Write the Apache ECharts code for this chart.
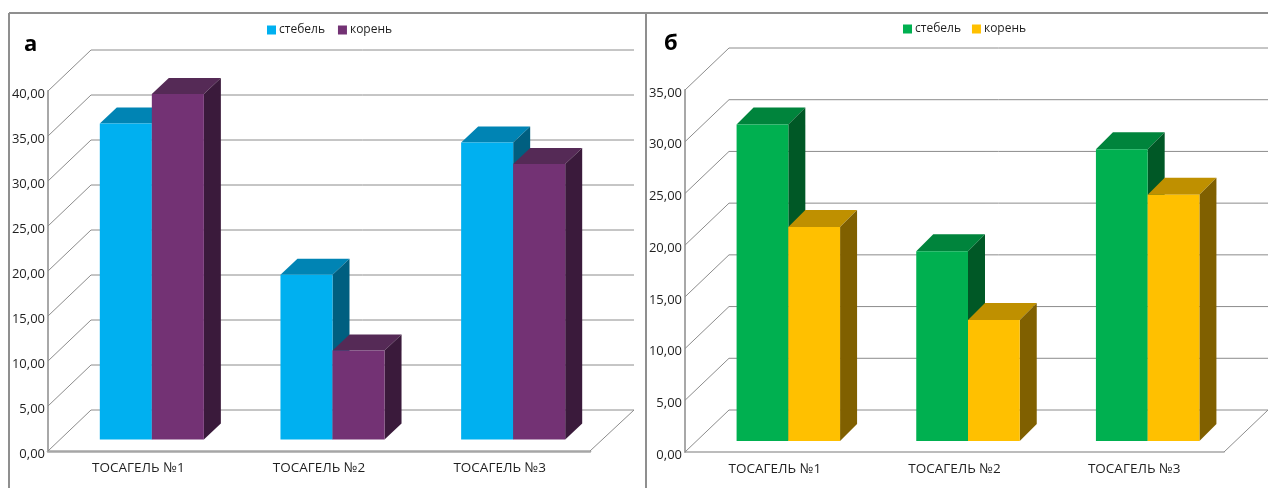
<!DOCTYPE html>
<html>
<head>
<meta charset="utf-8">
<style>
html,body{margin:0;padding:0;background:#fff}
#chart{width:1268px;height:488px}
</style>
<script src="https://cdn.jsdelivr.net/npm/echarts@6/dist/echarts.min.js"></script>
</head>
<body>
<div id="chart"></div>
<script>
// Stem and root measurements for the three preparations, panels "а" and "б"
const categories = ['ТОСАГЕЛЬ №1', 'ТОСАГЕЛЬ №2', 'ТОСАГЕЛЬ №3'];
const stemA = [35.1, 18.3, 33.0];
const rootA = [38.4, 9.9, 30.6];
const stemB = [30.6, 18.35, 28.2];
const rootB = [20.7, 11.7, 23.8];
const ticksA = [0, 5, 10, 15, 20, 25, 30, 35, 40];
const ticksB = [0, 5, 10, 15, 20, 25, 30, 35];
const seriesNames = ['стебель', 'корень'];

const FONT = '"Open Sans", sans-serif';
const TEXT = '#1f1f1f';

// Front, top and side shades of each box
const shades = {
  stemA: ['#00B0F0', '#0084B4', '#005F80'],
  rootA: ['#733274', '#552A56', '#3A1A3B'],
  stemB: ['#00B050', '#00843C', '#005826'],
  rootB: ['#FFC000', '#BF9000', '#806000']
};

// Projection of one panel: wall depth and box placement on the floor
const panelA = { wall: [43, -41], depth: [17, -16], shift: [13.5, -11.5], backEnd: 634 };
const panelB = { wall: [44, -42], depth: [17, -17], shift: [13.5, -11], backEnd: 1268 };

function wallSeries(gridIdx, ticks, panel) {
  return {
    type: 'custom',
    xAxisIndex: gridIdx,
    yAxisIndex: gridIdx,
    silent: true,
    z: 1,
    data: ticks.map(t => [0, t]),
    renderItem(params, api) {
      const p = api.coord([0, api.value(1)]);
      const band = api.size([1, 0])[0];
      const x0 = params.coordSys.x;
      const y = p[1];
      const backX = x0 + panel.wall[0];
      const backY = y + panel.wall[1];
      const children = [{
        type: 'polyline',
        shape: { points: [[x0, y], [backX, backY], [panel.backEnd, backY]] },
        style: { fill: null, stroke: '#8c8c8c', lineWidth: 1 }
      }];
      if (api.value(1) === 0) {
        const frontEnd = x0 + band * categories.length;
        children.push({
          type: 'line',
          shape: { x1: frontEnd, y1: y, x2: panel.backEnd, y2: backY },
          style: { stroke: '#8c8c8c', lineWidth: 1 }
        });
      }
      return { type: 'group', children };
    }
  };
}

function boxSeries(gridIdx, name, values, colors, side, panel) {
  return {
    type: 'custom',
    name,
    xAxisIndex: gridIdx,
    yAxisIndex: gridIdx,
    z: 2,
    itemStyle: { color: colors[0] },
    encode: { x: 0, y: 1 },
    data: values.map((v, i) => [i, v]),
    renderItem(params, api) {
      const cat = api.value(0);
      const top = api.coord([cat, api.value(1)]);
      const base = api.coord([cat, 0]);
      const w = api.size([1, 0])[0] * 0.288;
      const cx = top[0] + panel.shift[0];
      const x1 = side < 0 ? cx - w : cx;
      const x2 = x1 + w;
      const yt = top[1] + panel.shift[1];
      const yb = base[1] + panel.shift[1];
      const dx = panel.depth[0];
      const dy = panel.depth[1];
      const face = (points, fill) => ({
        type: 'polygon',
        shape: { points },
        style: { fill, stroke: null }
      });
      return {
        type: 'group',
        children: [
          face([[x1, yt], [x1 + dx, yt + dy], [x2 + dx, yt + dy], [x2, yt]], colors[1]),
          face([[x2, yt], [x2 + dx, yt + dy], [x2 + dx, yb + dy], [x2, yb]], colors[2]),
          face([[x1, yt], [x2, yt], [x2, yb], [x1, yb]], colors[0])
        ]
      };
    }
  };
}

const xAxis = (i, width) => ({
  type: 'category',
  gridIndex: i,
  data: categories,
  axisTick: { show: false },
  axisLine: { show: true, lineStyle: { color: '#a6a6a6', width } },
  axisLabel: { color: TEXT, fontFamily: FONT, fontSize: 13.5, margin: 10 },
  splitLine: { show: false }
});

const yAxis = (i, max) => ({
  type: 'value',
  gridIndex: i,
  min: 0,
  max,
  interval: 5,
  axisTick: { show: false },
  axisLine: { show: true, lineStyle: { color: '#a8a8a8', width: 2 } },
  axisLabel: {
    color: TEXT, fontFamily: FONT, fontSize: 13, margin: 3,
    verticalAlign: 'top',
    lineHeight: 6,
    formatter: v => v.toFixed(2).replace('.', ',')
  },
  splitLine: { show: false }
});

const legendFor = (left, top, gap, colors) => ({
  left,
  top,
  orient: 'horizontal',
  itemWidth: 9,
  itemHeight: 9,
  itemGap: gap,
  icon: 'rect',
  selectedMode: false,
  textStyle: { color: TEXT, fontFamily: FONT, fontSize: 12, padding: [0, 0, 0, -2] },
  data: seriesNames.map((name, i) => ({ name, itemStyle: { color: colors[i] } }))
});

const frameLine = (x1, y1, x2, y2) => ({
  type: 'line',
  silent: true,
  shape: { x1, y1, x2, y2 },
  style: { stroke: '#8f8f8f', lineWidth: 2 }
});

const chart = echarts.init(document.getElementById('chart'), null, { renderer: 'canvas' });
chart.setOption({
  animation: false,
  backgroundColor: '#fff',
  title: [
    { text: 'а', left: 24, top: 34, padding: 0, textStyle: { fontFamily: FONT, fontSize: 22, fontWeight: 'bold', color: '#000' } },
    { text: 'б', left: 664, top: 33, padding: 0, textStyle: { fontFamily: FONT, fontSize: 22, fontWeight: 'bold', color: '#000' } }
  ],
  legend: [
    legendFor(262, 19, 13, [shades.stemA[0], shades.rootA[0]]),
    legendFor(898, 18, 11, [shades.stemB[0], shades.rootB[0]])
  ],
  grid: [
    { left: 48, top: 91, width: 542, height: 360 },
    { left: 685, top: 90, width: 539, height: 362 }
  ],
  xAxis: [xAxis(0, 2.5), xAxis(1, 1.5)],
  yAxis: [yAxis(0, 40), yAxis(1, 35)],
  graphic: [
    frameLine(9, 13, 1268, 13),
    frameLine(9, 13, 9, 488),
    frameLine(646, 13, 646, 488)
  ],
  series: [
    wallSeries(0, ticksA, panelA),
    wallSeries(1, ticksB, panelB),
    boxSeries(0, seriesNames[0], stemA, shades.stemA, -1, panelA),
    boxSeries(0, seriesNames[1], rootA, shades.rootA, 1, panelA),
    boxSeries(1, seriesNames[0], stemB, shades.stemB, -1, panelB),
    boxSeries(1, seriesNames[1], rootB, shades.rootB, 1, panelB)
  ]
});
</script>
</body>
</html>
